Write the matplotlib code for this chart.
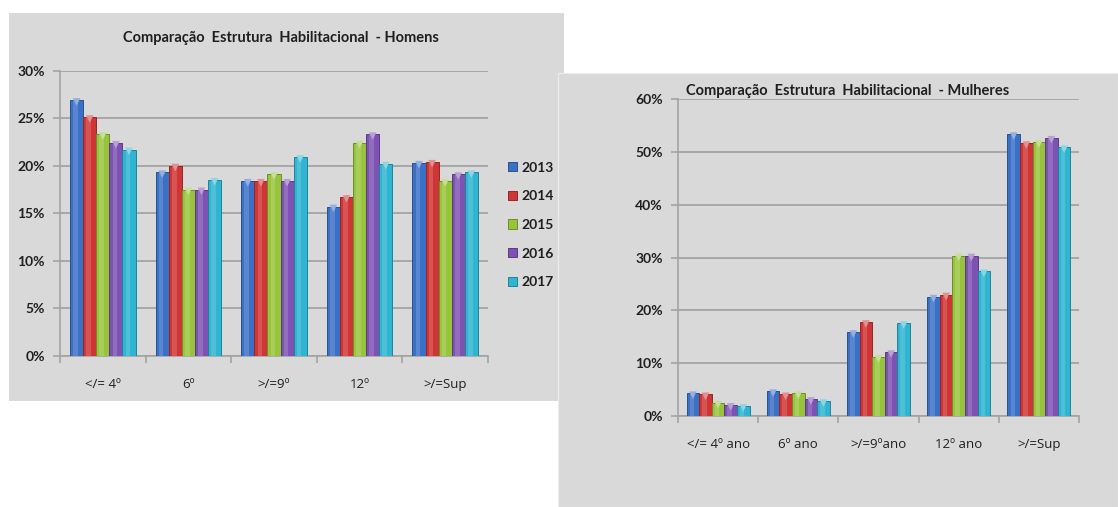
# Comparação Estrutura Habilitacional - Homens / Mulheres (2013-2017)
import numpy as np
import matplotlib
matplotlib.use("Agg")
import matplotlib.pyplot as plt
import matplotlib.colors as mcolors
from matplotlib.patches import Rectangle
from matplotlib.ticker import FuncFormatter, MultipleLocator

plt.rcParams["font.family"] = ["Lato", "DejaVu Sans"]

# ----------------------------------------------------------
# DADOS
# ----------------------------------------------------------
anos = ["2013", "2014", "2015", "2016", "2017"]

cats_homens = ["</= 4º", "6º", ">/=9º", "12º", ">/=Sup"]
homens_2013 = [26.9, 19.3, 18.4, 15.7, 20.3]
homens_2014 = [25.1, 20.0, 18.4, 16.7, 20.4]
homens_2015 = [23.3, 17.5, 19.1, 22.4, 18.4]
homens_2016 = [22.4, 17.5, 18.4, 23.3, 19.1]
homens_2017 = [21.7, 18.5, 20.9, 20.2, 19.3]

cats_mulheres = ["</= 4º ano", "6º ano", ">/=9ºano", "12º ano", ">/=Sup"]
mulheres_2013 = [4.3, 4.7, 15.9, 22.6, 53.4]
mulheres_2014 = [4.1, 4.1, 17.8, 23.0, 51.7]
mulheres_2015 = [2.5, 4.3, 11.2, 30.4, 51.9]
mulheres_2016 = [2.1, 3.2, 12.1, 30.4, 52.7]
mulheres_2017 = [1.9, 2.8, 17.6, 27.4, 50.9]

CORES = ["#3a70c6", "#cf3535", "#98c43c", "#7d52b2", "#2fb4d2"]
FUNDO = "#d9d9d9"
GRELHA = "#a3a3a3"
TEXTO = "#1f1f1f"

W, H = 1118, 507
fig = plt.figure(figsize=(W / 100, H / 100), dpi=100)
fig.patch.set_facecolor("white")


def fx(px):
    return px / W


def fy(py):
    return 1 - py / H


# painéis cinzentos (estilo Excel)
fig.patches.append(Rectangle((fx(9), fy(401)), fx(564) - fx(9), fy(13) - fy(401),
                             transform=fig.transFigure, facecolor=FUNDO,
                             edgecolor="none", zorder=-3))
fig.patches.append(Rectangle((fx(558), fy(507)), 1 - fx(558), fy(73) - fy(507),
                             transform=fig.transFigure, facecolor=FUNDO,
                             edgecolor="#ececec", linewidth=0.8, zorder=-2))


def desenha(eje, cats, series, ymax, passo, largura):
    x = np.arange(len(cats))
    n = len(series)
    handles = []
    for i, (vals, cor) in enumerate(zip(series, CORES)):
        pos = x + (i - (n - 1) / 2) * largura
        escuro = tuple(c * 0.72 for c in mcolors.to_rgb(cor))
        claro = tuple(c + (1 - c) * 0.45 for c in mcolors.to_rgb(cor))
        b = eje.bar(pos, vals, width=largura, color=cor, edgecolor=escuro,
                    linewidth=0.7, zorder=3)
        handles.append(b)
        # brilho central para imitar o efeito 3D
        eje.bar(pos - largura * 0.08, vals, width=largura * 0.35, color=claro,
                alpha=0.35, linewidth=0, zorder=4)
        # tampa triangular
        eje.scatter(pos, np.array(vals) - ymax * 0.006, marker="v", s=30,
                    color=claro, edgecolors="none", zorder=5)
    eje.set_xlim(-0.5, len(cats) - 0.5)
    eje.set_ylim(0, ymax)
    eje.set_facecolor("none")
    eje.yaxis.set_major_locator(MultipleLocator(passo))
    eje.yaxis.set_major_formatter(FuncFormatter(lambda v, _: f"{v:.0f}%"))
    eje.grid(axis="y", color=GRELHA, linewidth=1.3, zorder=0)
    eje.set_axisbelow(True)
    for lado in ["top", "right"]:
        eje.spines[lado].set_visible(False)
    for lado in ["left", "bottom"]:
        eje.spines[lado].set_color(GRELHA)
        eje.spines[lado].set_linewidth(1.2)
    eje.set_xticks(x)
    eje.set_xticklabels(cats, family=["Open Sans", "DejaVu Sans"], fontsize=9.5)
    eje.set_xticks(np.arange(len(cats) + 1) - 0.5, minor=True)
    eje.tick_params(axis="x", which="major", length=0, pad=16,
                    labelcolor=TEXTO)
    eje.tick_params(axis="x", which="minor", length=5, color=GRELHA, width=1.2)
    eje.tick_params(axis="y", length=5, color=GRELHA, width=1.2, pad=6,
                    labelsize=10, labelcolor=TEXTO)
    for t in eje.get_yticklabels():
        t.set_fontweight("bold")
    return handles


# ----------------------------------------------------------
# HOMENS
# ----------------------------------------------------------
ax1 = fig.add_axes([fx(60), fy(356), fx(488) - fx(60), fy(70.7) - fy(356)])
h = desenha(ax1, cats_homens,
            [homens_2013, homens_2014, homens_2015, homens_2016, homens_2017],
            30, 5, 0.153)
fig.text(fx(281), fy(38), "Comparação  Estrutura  Habilitacional  - Homens",
         ha="center", va="center", fontsize=10.5, fontweight="bold", color=TEXTO)
ax1.legend(h, anos, loc="center left", bbox_to_anchor=(fx(508), fy(225)),
           bbox_transform=fig.transFigure, frameon=False,
           handlelength=0.65, handleheight=0.65, handletextpad=0.35,
           labelspacing=1.2, borderpad=0, borderaxespad=0,
           labelcolor=TEXTO, prop={"weight": "bold", "size": 10})

# ----------------------------------------------------------
# MULHERES
# ----------------------------------------------------------
ax2 = fig.add_axes([fx(678), fy(416), fx(1079) - fx(678), fy(99.3) - fy(416)])
desenha(ax2, cats_mulheres,
        [mulheres_2013, mulheres_2014, mulheres_2015, mulheres_2016, mulheres_2017],
        60, 10, 0.157)
fig.text(fx(848), fy(91), "Comparação  Estrutura  Habilitacional  - Mulheres",
         ha="center", va="center", fontsize=10.5, fontweight="bold", color=TEXTO)

plt.savefig("out.png", dpi=100)
